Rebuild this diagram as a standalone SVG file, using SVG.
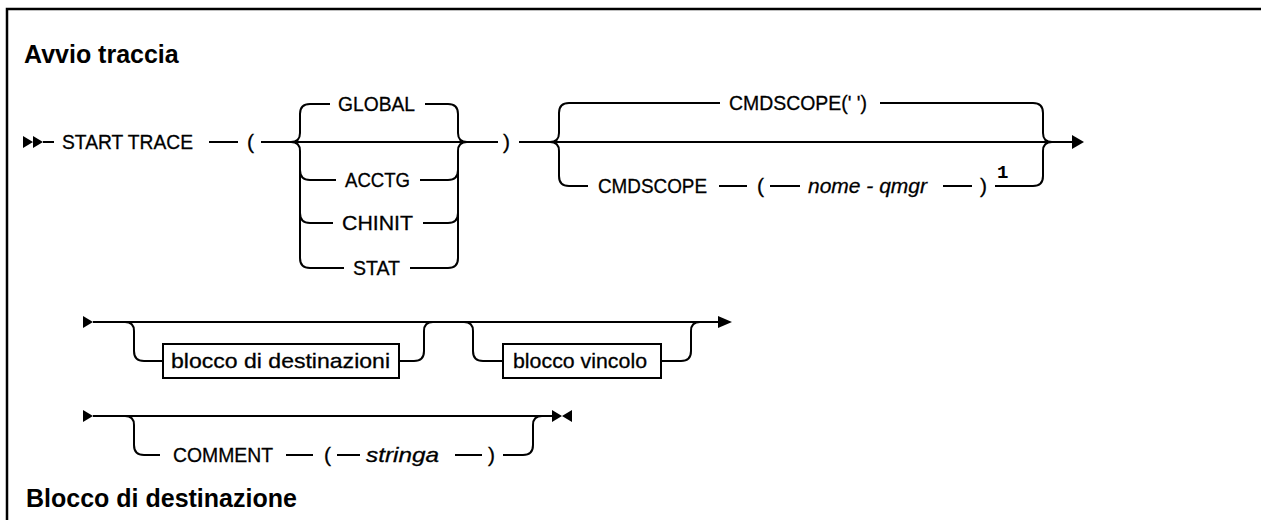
<svg xmlns="http://www.w3.org/2000/svg" width="1261" height="520" viewBox="0 0 1261 520">
<style>
.t{font-family:"Liberation Sans",Arial,sans-serif;font-size:21px;fill:#000;stroke:#000;stroke-width:0.3}
.i{font-style:italic}
.h{font-family:"Liberation Sans",Arial,sans-serif;font-size:25px;font-weight:bold;fill:#000}
.sup{font-family:"Liberation Mono","DejaVu Sans Mono",monospace;font-size:19px;font-weight:bold;fill:#000}
.c{fill:none;stroke:#000;stroke-width:2}
.box{fill:#fff;stroke:#000;stroke-width:2}
.m{fill:#000;stroke:none}
</style>
<rect x="7" y="9" width="1280" height="600" fill="#fff" stroke="#000" stroke-width="2.5"/>
<g id="title1"><text class="h" x="24" y="63">Avvio traccia</text></g>
<g id="title2"><text class="h" x="26" y="507">Blocco di destinazione</text></g>

<g id="connectors">
<!-- row 1 -->
<path class="m" d="M23 136 L33 142 L23 148 Z M33 136 L43 142 L33 148 Z"/>
<path class="c" d="M43 142 H54"/>
<path class="c" d="M209 142 H238"/>
<path class="c" d="M261 142 H498"/>
<path class="c" d="M291 142 Q300 142 300 133 V114 Q300 104 310 104 H330"/>
<path class="c" d="M291 142 Q300 142 300 151 V258 Q300 268 310 268 H344"/>
<path class="c" d="M300 170 Q300 180 310 180 H336"/>
<path class="c" d="M300 213 Q300 223 310 223 H333"/>
<path class="c" d="M425 104 H448 Q458 104 458 114 V133 Q458 142 467 142"/>
<path class="c" d="M410 268 H448 Q458 268 458 258 V151 Q458 142 467 142"/>
<path class="c" d="M420 180 H448 Q458 180 458 170"/>
<path class="c" d="M423 223 H448 Q458 223 458 213"/>
<path class="c" d="M519 142 H1072"/>
<path class="c" d="M550 142 Q559 142 559 133 V113 Q559 103 569 103 H720"/>
<path class="c" d="M550 142 Q559 142 559 151 V176 Q559 186 569 186 H588"/>
<path class="c" d="M719 186 H747 M770 186 H800 M943 186 H972"/>
<path class="c" d="M880 103 H1033 Q1043 103 1043 113 V133 Q1043 142 1052 142"/>
<path class="c" d="M995 186 H1033 Q1043 186 1043 176 V151 Q1043 142 1052 142"/>
<path class="m" d="M1072 135 L1084 142 L1072 149 Z"/>
<!-- row 2 -->
<path class="m" d="M83 316 L93 322 L83 328 Z"/>
<path class="c" d="M93 322 H718"/>
<path class="m" d="M718 316 L732 322 L718 328 Z"/>
<path class="c" d="M125 322 Q134 322 134 331 V351 Q134 361 144 361 H163"/>
<path class="c" d="M399 361 H414 Q424 361 424 351 V331 Q424 322 433 322"/>
<path class="c" d="M464 322 Q473 322 473 331 V351 Q473 361 483 361 H503"/>
<path class="c" d="M661 361 H681 Q691 361 691 351 V331 Q691 322 700 322"/>
<!-- row 3 -->
<path class="m" d="M83 410 L93 416 L83 422 Z"/>
<path class="c" d="M93 416 H552"/>
<path class="m" d="M552 410 L562 416 L552 422 Z M572 410 L562 416 L572 422 Z"/>
<path class="c" d="M125 416 Q134 416 134 425 V445 Q134 455 144 455 H160"/>
<path class="c" d="M286 455 H313 M337 455 H360 M455 455 H482"/>
<path class="c" d="M503 455 H523 Q533 455 533 445 V425 Q533 416 542 416"/>
</g>

<g id="n-start-trace"><text class="t" x="62" y="149" textLength="131" lengthAdjust="spacingAndGlyphs">START TRACE</text></g>
<g id="n-lparen1"><text class="t" x="247" y="149">(</text></g>
<g id="n-global"><text class="t" x="338" y="111" textLength="77" lengthAdjust="spacingAndGlyphs">GLOBAL</text></g>
<g id="n-acctg"><text class="t" x="345" y="187" textLength="65" lengthAdjust="spacingAndGlyphs">ACCTG</text></g>
<g id="n-chinit"><text class="t" x="342" y="230" textLength="71" lengthAdjust="spacingAndGlyphs">CHINIT</text></g>
<g id="n-stat"><text class="t" x="353" y="275" textLength="47" lengthAdjust="spacingAndGlyphs">STAT</text></g>
<g id="n-rparen1"><text class="t" x="503" y="149">)</text></g>
<g id="n-cmdscope-default"><text class="t" x="729" y="110" textLength="138" lengthAdjust="spacingAndGlyphs">CMDSCOPE(' ')</text></g>
<g id="n-cmdscope"><text class="t" x="598" y="193" textLength="109" lengthAdjust="spacingAndGlyphs">CMDSCOPE</text></g>
<g id="n-lparen2"><text class="t" x="757" y="193">(</text></g>
<g id="n-qmgr"><text class="t i" x="808" y="193" textLength="119" lengthAdjust="spacingAndGlyphs">nome - qmgr</text></g>
<g id="n-rparen2"><text class="t" x="980" y="193">)</text></g>
<g id="n-note1"><text class="sup" x="997" y="178">1</text></g>
<g id="n-blocco-dest"><rect class="box" x="163" y="344" width="236" height="34"/><text class="t" x="171" y="368" textLength="219" lengthAdjust="spacingAndGlyphs">blocco di destinazioni</text></g>
<g id="n-blocco-vincolo"><rect class="box" x="503" y="344" width="158" height="34"/><text class="t" x="513" y="368" textLength="134" lengthAdjust="spacingAndGlyphs">blocco vincolo</text></g>
<g id="n-comment"><text class="t" x="173" y="462" textLength="100" lengthAdjust="spacingAndGlyphs">COMMENT</text></g>
<g id="n-lparen3"><text class="t" x="324" y="462">(</text></g>
<g id="n-stringa"><text class="t i" x="366" y="462" textLength="73" lengthAdjust="spacingAndGlyphs">stringa</text></g>
<g id="n-rparen3"><text class="t" x="488" y="462">)</text></g>
</svg>
